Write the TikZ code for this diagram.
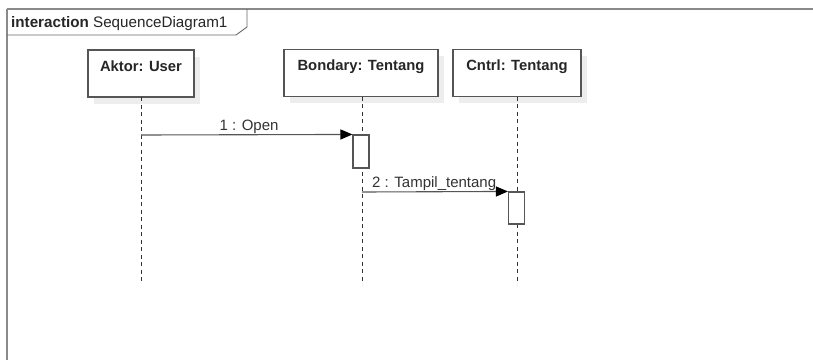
\documentclass[tikz,border=0pt]{standalone}
\usepackage{fontspec}
\setmainfont{Liberation Sans}
\usetikzlibrary{arrows.meta}
\definecolor{framegray}{HTML}{8A8A8A}
\definecolor{linegray}{HTML}{555555}
\definecolor{shadowgray}{HTML}{EDEDED}
\begin{document}
\begin{tikzpicture}[x=1pt,y=-1pt,
  lifebox/.style={draw=linegray, line width=1.1pt, fill=white, minimum width=#1, minimum height=47pt, inner sep=0pt},
  lifebox/.default=106pt,
  boxshadow/.style={fill=shadowgray, draw=none, minimum height=47pt, inner sep=0pt},
  boxtitle/.style={font=\fontsize{14.8}{17}\selectfont\bfseries, text=black!85, anchor=base, inner sep=0pt},
  lifeline/.style={draw=black!80, line width=0.9pt, dash pattern=on 4pt off 3.5pt},
  actbox/.style={draw=linegray, line width=1.1pt, fill=white, minimum width=16pt, inner sep=0pt},
  msg/.style={draw=linegray, line width=1.1pt, -{Triangle[length=12pt,width=10pt,color=black]}},
  msglabel/.style={font=\fontsize{15}{17}\selectfont, text=black!80, anchor=base, inner sep=0pt},
  framestroke/.style={draw=framegray, line width=2pt},
  tabstroke/.style={draw=black!60, line width=0.9pt}
]
\useasboundingbox (0,0) rectangle (813,359);
\fill[white] (0,0) rectangle (813,359);

% interaction frame (runs past the right and bottom edges)
\draw[framestroke] (7,9) -- (830,9);
\draw[framestroke] (7,9) -- (7,380);
\draw[tabstroke] (7,35) -- (236,35) -- (247,27) -- (247,9);
\node[anchor=base west, inner sep=0pt, font=\fontsize{15.2}{17}\selectfont, text=black!85] (frametitle) at (11,27.5)
  {\textbf{interaction} SequenceDiagram1};

% box shadows
\node[boxshadow, minimum width=106pt] (usersh) at (147,80) {};
\node[boxshadow, minimum width=154pt] (bndsh) at (367,79) {};
\node[boxshadow, minimum width=128pt] (ctlsh) at (523,79) {};

% lifeline heads
\node[lifebox=106pt] (user) at (141,73.5) {};
\node[lifebox=154pt] (bnd) at (361,73) {};
\node[lifebox=128pt] (ctl) at (517,73) {};
\node[boxtitle] (usert) at ([yshift=-22pt]user.north) {Aktor: User};
\node[boxtitle] (bndt) at ([yshift=-22pt]bnd.north) {Bondary: Tentang};
\node[boxtitle] (ctlt) at ([yshift=-22pt]ctl.north) {Cntrl: Tentang};

% lifeline ends
\coordinate (userend) at (141,284);
\coordinate (bndend) at (362,284);
\coordinate (ctlend) at (517,284);
\coordinate (usertop) at (141,97);
\coordinate (bndtop) at (362,96.5);
\coordinate (ctltop) at (517,96.5);
\draw[lifeline] (usertop) -- (userend);
\draw[lifeline] (bndtop) -- (bndend);
\draw[lifeline] (ctltop) -- (ctlend);

% activations
\node[actbox, minimum height=33pt] (act1) at (361,151.5) {};
\node[actbox, minimum height=32pt] (act2) at (516.5,208) {};

% messages
\coordinate (m1start) at (141,135);
\coordinate (m2start) at (362,192);
\draw[msg] (m1start) -- (act1.north west);
\draw[msg] (m2start) -- (act2.north west);
\node[msglabel] (m1lbl) at (249,130) {1 : Open};
\node[msglabel, anchor=base west] (m2lbl) at (372,187) {2 : Tampil\_tentang};
\end{tikzpicture}
\end{document}
